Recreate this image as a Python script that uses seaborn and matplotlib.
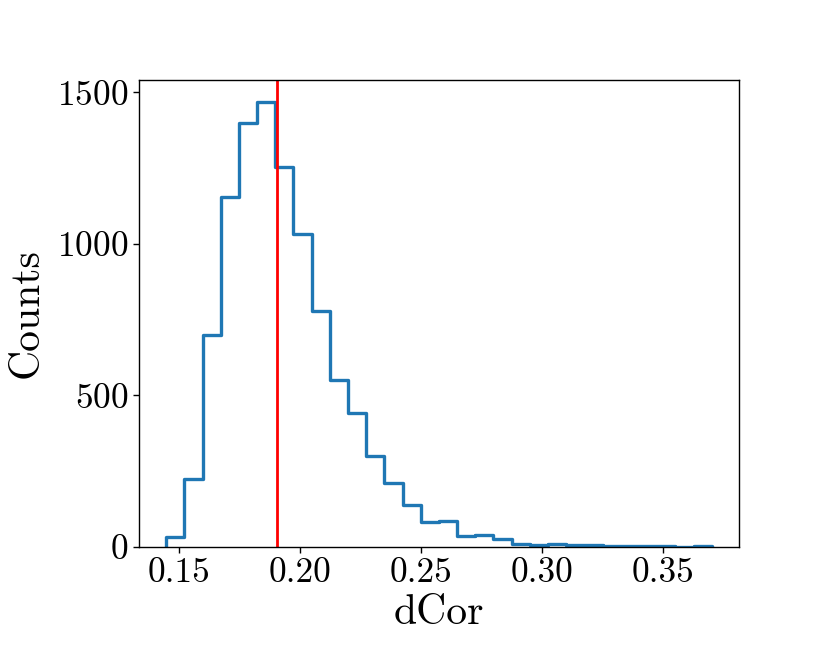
import numpy as np
import pandas as pd
import matplotlib
matplotlib.use("Agg")
import matplotlib.pyplot as plt
import seaborn as sns

# Data
bin_start = 0.1448
bin_stop = 0.3701
n_bins = 30
counts = [33, 223, 699, 1153, 1398, 1467, 1252, 1034, 780, 552,
          442, 301, 211, 140, 81, 87, 36, 41, 27, 11,
          8, 10, 5, 6, 3, 2, 3, 2, 1, 2]
ref_value = 0.1905
x_label = "dCor"
y_label = "Counts"

sns.set_style("ticks")
plt.rcParams["font.family"] = ["serif"]
plt.rcParams["font.serif"] = ["cmr10"]
plt.rcParams["mathtext.fontset"] = "cm"
plt.rcParams["axes.formatter.use_mathtext"] = True
for k in ["text.color", "axes.labelcolor", "xtick.color", "ytick.color", "axes.edgecolor"]:
    plt.rcParams[k] = "black"

edges = np.linspace(bin_start, bin_stop, n_bins + 1)
centers = (edges[:-1] + edges[1:]) / 2
df = pd.DataFrame({"x": centers, "w": counts})

line_color = "#1f77b4"
fig = plt.figure(figsize=(8.22, 6.67), dpi=100)
ax = fig.add_axes([0.169, 0.180, 0.730, 0.700])
sns.histplot(data=df, x="x", weights="w", bins=edges.tolist(), element="step",
             fill=False, color=line_color, linewidth=2.4, ax=ax)
# closing verticals of the step outline (down to the baseline at both ends)
ax.vlines([edges[0], edges[-1]], 0, [counts[0], counts[-1]],
          color=line_color, linewidth=2.4)
ax.axvline(ref_value, color="red", linewidth=2)

ax.set_xlabel(x_label, fontsize=30, labelpad=4)
ax.set_ylabel(y_label, fontsize=30, labelpad=8)
ax.tick_params(axis="both", labelsize=25.5, length=4, width=1, color="black", direction="out")
ax.set_xticks([0.15, 0.20, 0.25, 0.30, 0.35])
ax.set_xticklabels(["0.15", "0.20", "0.25", "0.30", "0.35"])
ax.set_yticks([0, 500, 1000, 1500])
for s in ax.spines.values():
    s.set_visible(True)
    s.set_color("black")
    s.set_linewidth(1)
ax.margins(x=0.05)
ax.set_ylim(0, max(counts) * 1.05)

fig.savefig("out.png", dpi=100)
